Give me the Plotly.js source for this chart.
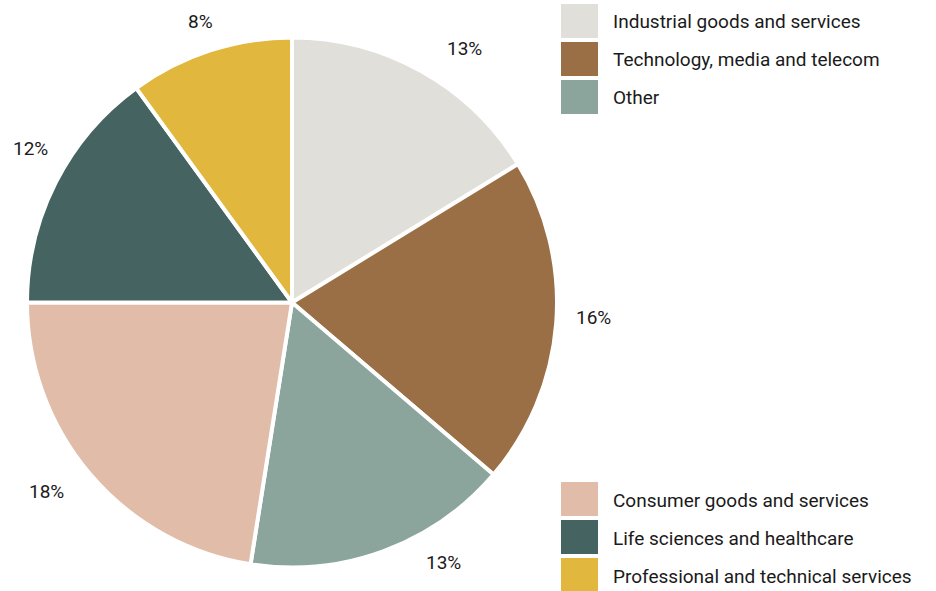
<!DOCTYPE html>
<html>
<head>
<meta charset="utf-8">
<script src="https://cdn.plot.ly/plotly-3.0.1.min.js"></script>
<style>html,body{margin:0;padding:0;background:#fff;}#chart{width:936px;height:591px;}</style>
</head>
<body>
<div id="chart"></div>
<script>
// Data
var categories = ["Industrial goods and services", "Technology, media and telecom", "Other",
                  "Consumer goods and services", "Life sciences and healthcare", "Professional and technical services"];
var values = [13, 16, 13, 18, 12, 8];
var labelsText = ["13%", "16%", "13%", "18%", "12%", "8%"];
var colors = ["#E0DFDA", "#9A6F45", "#8BA59C", "#E1BCA9", "#456360", "#E2B73D"];
var legendTop = [0, 1, 2];
var legendBottom = [3, 4, 5];

// Style / layout settings
var W = 936, H = 591;
var cx = 292, cy = 302.5, r = 265;
var labelStyle = {dist: [307, 302, 301, 310, 304, 296], nudgeDeg: [5, -1.6, -9.9, 2.9, 3.5, -0.1]};
var fontFam = "Roboto, 'Liberation Sans', sans-serif";
var textColor = "#1a1a1a";
var fontSize = 19;

var total = values.reduce(function(a, b) { return a + b; }, 0);
var annotations = [];
var shapes = [];
var cum = 0;
values.forEach(function(v, i) {
  var midDeg = (cum + v / 2) / total * 360 + labelStyle.nudgeDeg[i];
  cum += v;
  var mid = midDeg * Math.PI / 180;
  var d = labelStyle.dist[i];
  var px = cx + d * Math.sin(mid);
  var py = cy - d * Math.cos(mid);
  annotations.push({
    xref: "paper", yref: "paper", x: px / W, y: 1 - py / H,
    xanchor: "center", yanchor: "middle", showarrow: false,
    text: labelsText[i], font: {family: fontFam, size: fontSize, color: textColor}
  });
});

function addLegend(idxs, top) {
  idxs.forEach(function(ci, k) {
    var y0 = top + k * 38, y1 = y0 + 34;
    shapes.push({type: "rect", xref: "paper", yref: "paper",
      x0: 561 / W, x1: 598 / W, y0: 1 - y1 / H, y1: 1 - y0 / H,
      fillcolor: colors[ci], line: {width: 0}});
    annotations.push({xref: "paper", yref: "paper", x: 611 / W, y: 1 - (y0 + 18) / H,
      xanchor: "left", yanchor: "middle", showarrow: false,
      text: categories[ci], font: {family: fontFam, size: fontSize, color: textColor}});
  });
}
addLegend(legendTop, 4);
addLegend(legendBottom, 482);

var trace = {
  type: "pie",
  labels: categories,
  values: values,
  sort: false,
  direction: "clockwise",
  rotation: 0,
  textinfo: "none",
  hoverinfo: "label+value",
  marker: {colors: colors, line: {color: "#ffffff", width: 4}},
  domain: {x: [(cx - r) / W, (cx + r) / W], y: [1 - (cy + r) / H, 1 - (cy - r) / H]},
  showlegend: false
};

var layout = {
  width: W, height: H,
  margin: {l: 0, r: 0, t: 0, b: 0},
  paper_bgcolor: "#ffffff",
  showlegend: false,
  annotations: annotations,
  shapes: shapes,
  font: {family: fontFam}
};

Plotly.newPlot("chart", [trace], layout, {displayModeBar: false, staticPlot: true});
</script>
</body>
</html>
